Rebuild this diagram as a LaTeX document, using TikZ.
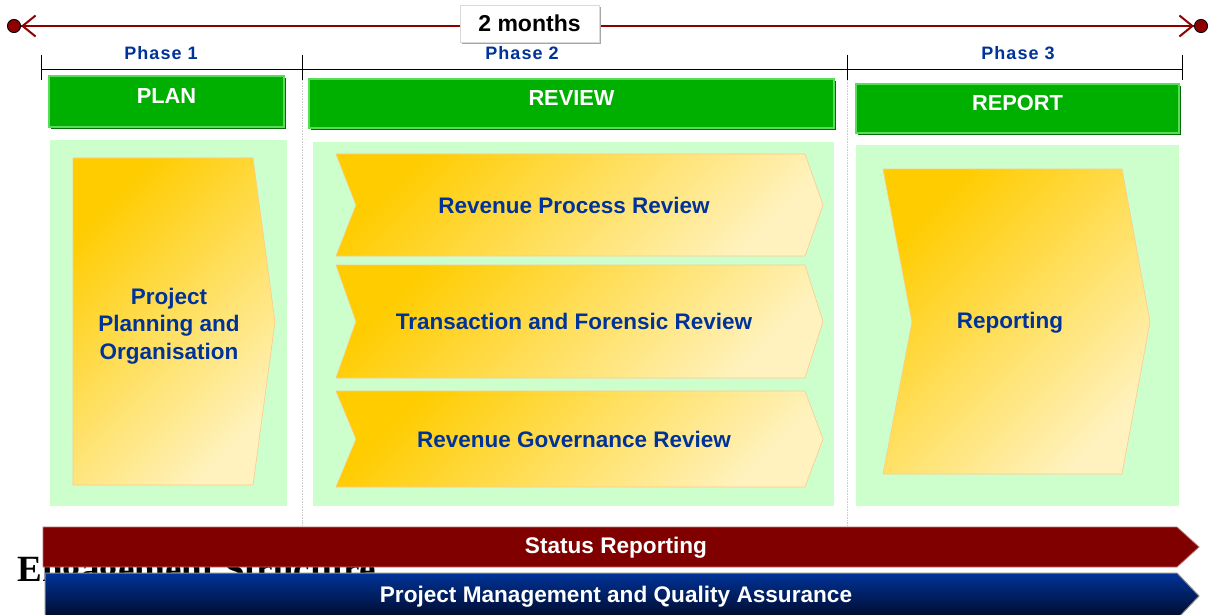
\documentclass[tikz,border=0pt]{standalone}
\usepackage{fontspec}
\setmainfont{Liberation Sans}
\newfontfamily\titlefont{Liberation Serif}
\newfontfamily\phasefont[LetterSpace=6]{Liberation Sans}
\usetikzlibrary{arrows.meta,shadows}

\definecolor{tlred}{RGB}{140,0,0}
\definecolor{hdrgreen}{RGB}{0,176,0}
\definecolor{hdrlight}{RGB}{90,220,90}
\definecolor{hdrdark}{RGB}{0,110,0}
\definecolor{panelgreen}{RGB}{204,255,204}
\definecolor{chevgold}{RGB}{255,204,0}
\definecolor{chevcream}{RGB}{255,242,190}
\definecolor{chevedge}{RGB}{255,200,140}
\definecolor{textblue}{RGB}{0,51,153}
\definecolor{barred}{RGB}{128,0,0}
\definecolor{barblue}{RGB}{0,51,153}
\definecolor{barnavy}{RGB}{0,10,40}

\tikzset{
  header/.style={fill=hdrgreen, draw=hdrlight, line width=1.5pt, text=white,
    font=\bfseries\fontsize{21.8}{25}\selectfont, text depth=11pt,
    drop shadow={shadow xshift=2pt, shadow yshift=-2pt, fill=hdrdark, opacity=1}},
  panel/.style={fill=panelgreen},
  chev/.style={draw=chevedge, line width=0.6pt, top color=chevgold,
    bottom color=chevcream, shading angle=45},
  chevtext/.style={text=textblue, font=\bfseries\fontsize{22.5}{27.5}\selectfont, align=center},
  phaselabel/.style={text=textblue, font=\phasefont\bfseries\fontsize{18}{20}\selectfont},
  bracket/.style={black, line width=0.8pt},
  sepline/.style={black!20, line width=0.6pt, densely dotted},
  bartext/.style={text=white, font=\bfseries\fontsize{22.6}{25}\selectfont},
  dotbarb/.tip={Straight Barb[length=13pt, width=21pt]
    Circle[length=14pt, line width=0.8pt, color=black, fill=tlred]}
}

\begin{document}
\begin{tikzpicture}[x=1pt, y=-1pt]
  \useasboundingbox (0,0) rectangle (1210,615);
  \fill[white] (0,0) rectangle (1210,615);

  % time line
  \coordinate (tl-start) at (7,26);
  \coordinate (tl-end) at (1208,26);
  \draw[tlred, line width=2pt, dotbarb-dotbarb] (tl-start) -- (tl-end);
  \node[fill=white, draw=black!15, minimum width=139pt, minimum height=37pt,
    font=\bfseries\fontsize{23}{25}\selectfont,
    drop shadow={shadow xshift=2pt, shadow yshift=-2pt, fill=black!35, opacity=1}]
    (duration) at (529.5,23.5) {2 months};

  % phases
  \foreach \x/\n in {41/pa, 302/pb, 847/pc, 1182/pd}{
    \coordinate (\n) at (\x,69);
    \draw[bracket] (\x,55) -- (\x,80);
  }
  \draw[bracket] (pa) -- (pd);
  \node[phaselabel] (phase1) at (161,53) {Phase 1};
  \node[phaselabel] (phase2) at (522,53) {Phase 2};
  \node[phaselabel] (phase3) at (1018,53) {Phase 3};

  \foreach \x in {302, 847}
    \draw[sepline] (\x,80) -- (\x,526);

  % headers
  \node[header, minimum width=235pt, minimum height=51pt] (plan)   at (166.5,101.5) {PLAN};
  \node[header, minimum width=525pt, minimum height=49pt] (review) at (571.5,103.5) {REVIEW};
  \node[header, minimum width=323pt, minimum height=49pt] (report) at (1017.5,108.5) {REPORT};

  % panels
  \fill[panel] (50,140) rectangle (287,506);
  \fill[panel] (313,142) rectangle (834,506);
  \fill[panel] (856,145) rectangle (1179,506);

  % plan
  \shadedraw[chev] (73,158) -- (253,158) -- (275,322) -- (253,485) -- (73,485) -- cycle;
  \node[chevtext] (planning) at (169,326) {Project\\Planning and\\Organisation};

  % review
  \foreach \top/\bot/\n/\txt in {154/256/rpr/Revenue Process Review,
      265/378/tfr/Transaction and Forensic Review,
      391/487/rgr/Revenue Governance Review}{
    \pgfmathsetmacro\mid{(\top+\bot)/2}
    \shadedraw[chev] (336,\top) -- (805,\top) -- (823,\mid) -- (805,\bot)
      -- (336,\bot) -- (356,\mid) -- cycle;
    \node[chevtext] (\n) at (574,\mid) {\txt};
  }

  % report
  \shadedraw[chev] (883,169) -- (1122,169) -- (1150,322) -- (1122,474)
    -- (883,474) -- (912,322) -- cycle;
  \node[chevtext] (reporting) at (1010,323) {Reporting};

  \node[anchor=base west, font=\titlefont\bfseries\fontsize{37}{40}\selectfont]
    (engtitle) at (14,581) {Engagement Structure};

  % bars
  \filldraw[fill=barred, draw=barred!55!white, line width=0.8pt]
    (43,527) -- (1177,527) -- (1199,547) -- (1177,567) -- (43,567) -- cycle;
  \node[bartext] (status) at (616,548) {Status Reporting};
  \shadedraw[top color=barblue, bottom color=barnavy, draw=black!45, line width=1pt]
    (45,573) -- (1177,573) -- (1199,596) -- (1177,619) -- (45,619) -- cycle;
  \node[bartext] (pmqa) at (616,597) {Project Management and Quality Assurance};
\end{tikzpicture}
\end{document}
